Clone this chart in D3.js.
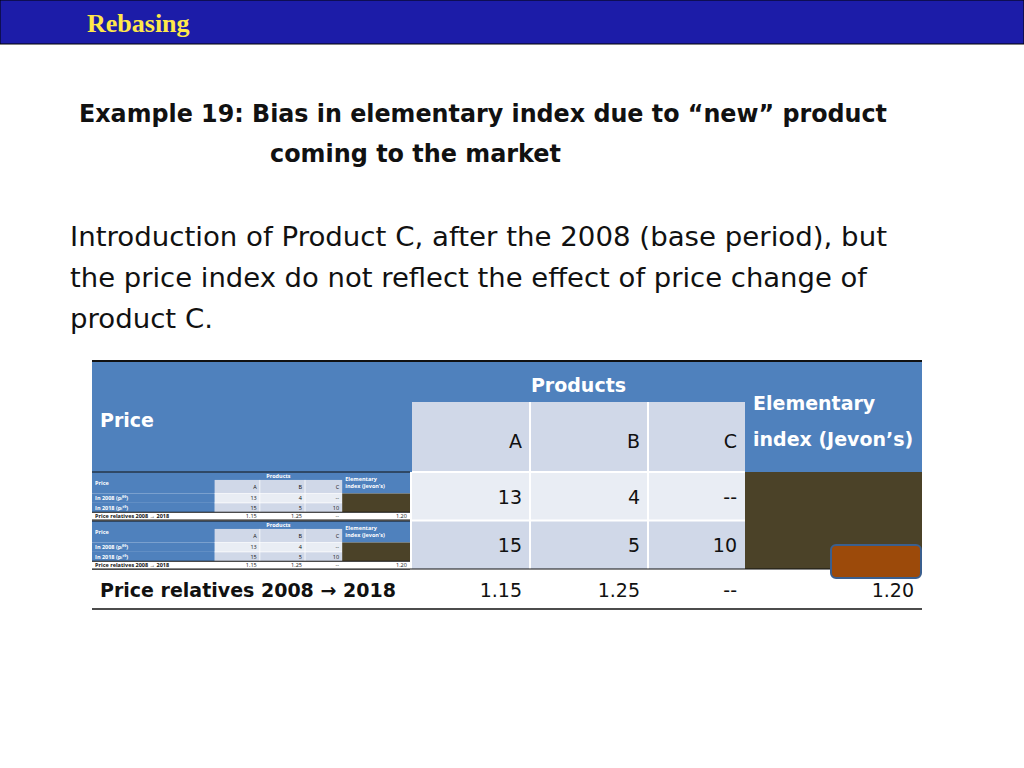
<!DOCTYPE html>
<html><head><meta charset="utf-8">
<script src="https://cdn.jsdelivr.net/npm/d3@7"></script>
<style>body{margin:0;background:#fff}</style></head>
<body><script>
var products = ["A", "B", "C"];
var prices2008 = ["13", "4", "--"];
var prices2018 = ["15", "5", "10"];
var relatives = ["1.15", "1.25", "--"];
var jevons = "1.20";
var rowLabels = ["In 2008 (p\u1D62\u2070\u2070)", "In 2018 (p\u1D62\u00B9\u2070)", "Price relatives 2008 \u2192 2018"];

var W = 1024, H = 768;
var svg = d3.select("body").append("svg").attr("width", W).attr("height", H)
  .style("font-family", "'DejaVu Sans', sans-serif");

// header bar
svg.append("rect").attr("x", 0).attr("y", 0).attr("width", W).attr("height", 44)
  .attr("fill", "#1c1ca8").attr("stroke", "#000").attr("stroke-width", 1);
svg.append("text").attr("x", 87).attr("y", 32).text("Rebasing")
  .attr("fill", "#ffe84a").attr("font-family", "'Liberation Serif', serif")
  .attr("font-weight", "bold").attr("font-size", 26);

// title, forced to the reference widths
var titleLines = [{t: "Example 19: Bias in elementary index due to \u201cnew\u201d product", x: 79, w: 808},
  {t: "coming to the market", x: 270, w: 291}];
svg.selectAll("text.title").data(titleLines)
  .enter().append("text").attr("class", "title")
  .attr("x", function(d) { return d.x; }).attr("y", function(d, i) { return 122 + i * 40; })
  .attr("textLength", function(d) { return d.w; }).attr("lengthAdjust", "spacingAndGlyphs")
  .attr("font-weight", "bold").attr("font-size", 24)
  .attr("fill", "#111").text(function(d) { return d.t; });

var bodyLines = [{t: "Introduction of Product C, after the 2008 (base period), but", w: 817},
  {t: "the price index do not reflect the effect of price change of", w: 797},
  {t: "product C.", w: 143}];
svg.selectAll("text.body").data(bodyLines)
  .enter().append("text").attr("class", "body")
  .attr("x", 70).attr("y", function(d, i) { return 246 + i * 41; })
  .attr("textLength", function(d) { return d.w; }).attr("lengthAdjust", "spacingAndGlyphs")
  .attr("font-size", 26).attr("fill", "#111").text(function(d) { return d.t; });

// table columns
var cols = d3.scaleOrdinal().domain(["label", "A", "B", "C", "E", "end"]).range([92, 412, 530, 648, 745, 922]);
var blue = "#4f81bd", light = "#d0d8e8", olive = "#4b4228";

function table(g, x0, y0, sx, sy, mini) {
  var X = function(k) { return x0 + (cols(k) - 92) * sx; };
  var Y = function(v) { return y0 + (v - 361) * sy; };
  var fs = mini ? 5.5 : 19;
  var ff = mini ? "'Open Sans', sans-serif" : "'DejaVu Sans', sans-serif";
  g.style("font-family", ff);
  // header
  g.append("rect").attr("x", X("label")).attr("y", Y(361)).attr("width", X("end") - X("label"))
    .attr("height", Y(472) - Y(361)).attr("fill", blue);
  g.append("rect").attr("x", X("A")).attr("y", Y(402)).attr("width", X("E") - X("A"))
    .attr("height", Y(472) - Y(402)).attr("fill", light);
  g.append("text").attr("x", X("label") + 8 * sx).attr("y", Y(427)).text("Price")
    .attr("fill", "#fff").attr("font-weight", "bold").attr("font-size", fs);
  g.append("text").attr("x", (X("A") + X("E")) / 2).attr("y", Y(392)).text("Products")
    .attr("text-anchor", "middle").attr("fill", "#fff").attr("font-weight", "bold").attr("font-size", fs);
  g.selectAll(null).data(["Elementary", "index (Jevon\u2019s)"]).enter().append("text")
    .attr("x", X("E") + 8 * sx).attr("y", function(d, i) { return Y(410 + i * 36); }).text(function(d) { return d; })
    .attr("fill", "#fff").attr("font-weight", "bold").attr("font-size", fs);
  g.selectAll(null).data(products).enter().append("text")
    .attr("x", function(d, i) { return (i < 2 ? X(products[i + 1]) : X("E")) - 8 * sx; })
    .attr("y", Y(448)).attr("text-anchor", "end").attr("font-size", fs).attr("fill", "#111").text(function(d) { return d; });
  ["B", "C"].forEach(function(k) {
    g.append("line").attr("x1", X(k)).attr("x2", X(k)).attr("y1", Y(402)).attr("y2", Y(569)).attr("stroke", "#fff").attr("stroke-width", 2 * sx);
  });
  // data rows
  [prices2008, prices2018].forEach(function(row, r) {
    var top = Y(472 + r * 48.5), bot = Y(472 + (r + 1) * 48.5);
    if (mini) {
      g.append("rect").attr("x", X("label")).attr("y", top).attr("width", X("A") - X("label")).attr("height", bot - top).attr("fill", blue);
      g.append("text").attr("x", X("label") + 8 * sx).attr("y", (top + bot) / 2 + 2).text(rowLabels[r])
        .attr("fill", "#fff").attr("font-weight", "bold").attr("font-size", fs);
    }
    g.insert("rect", "line").attr("x", X("A")).attr("y", top).attr("width", X("E") - X("A")).attr("height", bot - top)
      .attr("fill", r === 0 ? "#e9edf4" : light);
    g.append("line").attr("x1", X("A")).attr("x2", X("E")).attr("y1", top).attr("y2", top).attr("stroke", "#fff").attr("stroke-width", 2 * sx);
    g.selectAll(null).data(row).enter().append("text")
      .attr("x", function(d, i) { return (i < 2 ? X(products[i + 1]) : X("E")) - 8 * sx; })
      .attr("y", (top + bot) / 2 + fs * 0.4).attr("text-anchor", "end").attr("font-size", fs).attr("fill", "#111")
      .text(function(d) { return d; });
  });
  g.append("rect").attr("x", X("E")).attr("y", Y(472)).attr("width", X("end") - X("E")).attr("height", Y(569) - Y(472)).attr("fill", olive);
  // relatives
  var rt = Y(569), rb = Y(609);
  g.append("rect").attr("x", X("label")).attr("y", rt).attr("width", X("end") - X("label")).attr("height", rb - rt).attr("fill", "#fff");
  g.append("text").attr("x", X("label") + 8 * sx).attr("y", (rt + rb) / 2 + fs * 0.4).text(rowLabels[2])
    .attr("font-weight", "bold").attr("font-size", fs).attr("fill", "#111");
  g.selectAll(null).data(relatives.concat([jevons])).enter().append("text")
    .attr("x", function(d, i) { return (i < 2 ? X(products[i + 1]) : i === 2 ? X("E") : X("end")) - 8 * sx; })
    .attr("y", (rt + rb) / 2 + fs * 0.4).attr("text-anchor", "end").attr("font-size", fs).attr("fill", "#111")
    .text(function(d) { return d; });
  g.append("line").attr("x1", X("label")).attr("x2", X("end")).attr("y1", Y(361)).attr("y2", Y(361)).attr("stroke", "#111").attr("stroke-width", mini ? 1 : 2);
  g.append("line").attr("x1", X("label")).attr("x2", X("end")).attr("y1", rb).attr("y2", rb).attr("stroke", "#111").attr("stroke-width", mini ? 1 : 1.5);
  g.append("line").attr("x1", X("label")).attr("x2", X("end")).attr("y1", rt).attr("y2", rt).attr("stroke", "#111").attr("stroke-width", 1);
}

table(svg.append("g"), 92, 361, 1, 1, false);
// thumbnails in the first column of the data rows
var sx = (410 - 92) / (922 - 92), sy = 48 / (609 - 361);
[472, 521].forEach(function(y) {
  table(svg.append("g"), 92, y, sx, sy, true);
});
// orange highlight
svg.append("rect").attr("x", 831).attr("y", 545).attr("width", 90).attr("height", 33).attr("rx", 5)
  .attr("fill", "#9c4a0a").attr("stroke", "#3a5f8f").attr("stroke-width", 2);
</script></body></html>
